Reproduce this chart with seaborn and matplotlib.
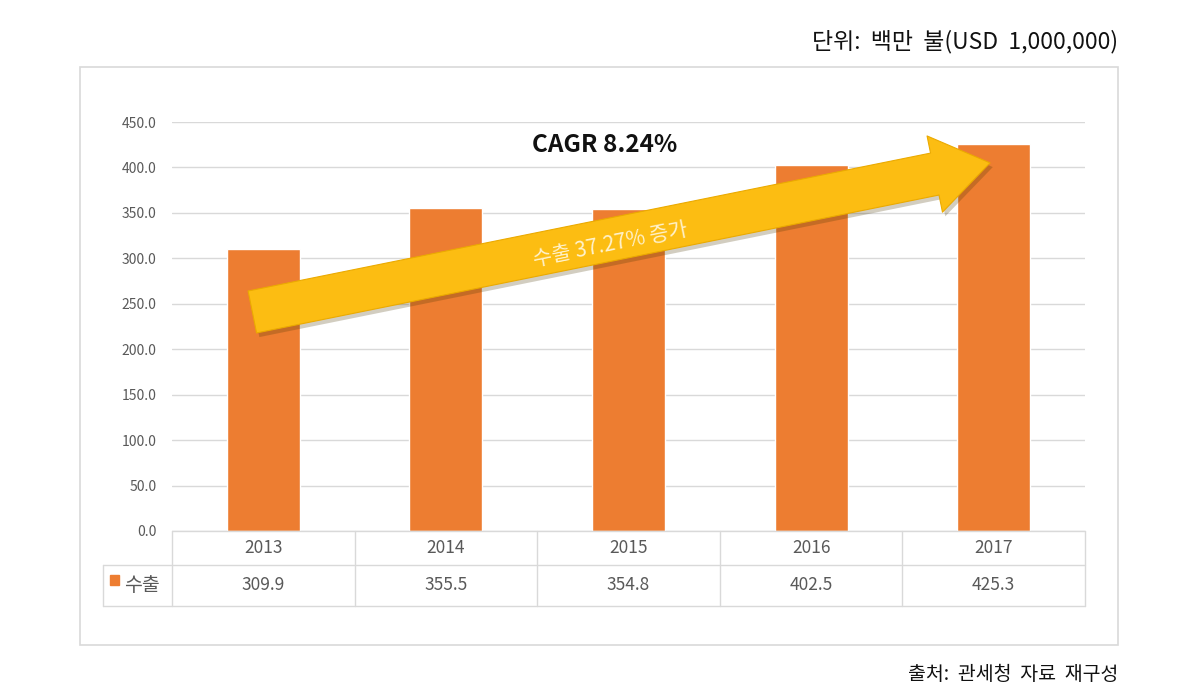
import matplotlib
matplotlib.use("Agg")
import matplotlib.pyplot as plt
import matplotlib.patheffects as pe
from matplotlib.patches import Rectangle
from matplotlib.lines import Line2D
import seaborn as sns
import pandas as pd

# 데이터
years = ["2013", "2014", "2015", "2016", "2017"]
exports = [309.9, 355.5, 354.8, 402.5, 425.3]
series_name = "수출"
yticks = [0, 50, 100, 150, 200, 250, 300, 350, 400, 450]

df = pd.DataFrame({"year": years, "value": exports})

sns.set_style("white")
plt.rcParams["font.family"] = ["Noto Sans CJK KR", "DejaVu Sans"]

BAR = "#ED7D31"
GRID = "#D9D9D9"
TXT = "#595959"

fig = plt.figure(figsize=(11.92, 6.91), dpi=100)
ax = fig.add_axes([172 / 1192, 1 - 531 / 691, 913 / 1192, 409 / 691])

sns.barplot(data=df, x="year", y="value", color=BAR, width=0.4, saturation=1, ax=ax, zorder=2)
ax.set_xlim(-0.5, len(years) - 0.5)
ax.set_ylim(0, 450)
ax.set_yticks(yticks)
ax.set_yticklabels([f"{v:.1f}" for v in yticks], color=TXT, fontsize=10)
ax.tick_params(axis="y", length=0, pad=11)
ax.set_xticks([])
ax.set_xlabel("")
ax.set_ylabel("")
ax.yaxis.grid(True, color=GRID, linewidth=1, zorder=0)
ax.set_axisbelow(True)
for s in ax.spines.values():
    s.set_visible(False)

# 데이터 테이블
tr = ax.get_xaxis_transform()
row1 = -34 / 409
row2 = -75 / 409
legx = -0.5 - 69 / 182.6
kw = dict(color=GRID, linewidth=1, transform=tr, clip_on=False)
ax.add_line(Line2D([-0.5, len(years) - 0.5], [0, 0], **kw))
ax.add_line(Line2D([legx, len(years) - 0.5], [row1, row1], **kw))
ax.add_line(Line2D([legx, len(years) - 0.5], [row2, row2], **kw))
ax.add_line(Line2D([legx, legx], [row1, row2], **kw))
for i in range(len(years) + 1):
    ax.add_line(Line2D([i - 0.5, i - 0.5], [0, row2], **kw))
for i, (yr, v) in enumerate(zip(years, exports)):
    ax.text(i, row1 / 2, yr, transform=tr, ha="center", va="center", fontsize=12.5, color=TXT)
    ax.text(i, (row1 + row2) / 2, f"{v:.1f}", transform=tr, ha="center", va="center",
            fontsize=12.5, color=TXT)
# 범례 셀
ax.add_patch(Rectangle((legx + 7 / 182.6, (row1 + row2) / 2 + 1 / 409), 9 / 182.6, 10 / 409,
                       transform=tr, color=BAR, clip_on=False))
ax.text(legx + 21 / 182.6, (row1 + row2) / 2, series_name, transform=tr, ha="left", va="center",
        fontsize=14, color=TXT)

# 화살표와 주석
ax.annotate("", xy=(3.98, 405), xytext=(-0.06, 241),
            arrowprops=dict(arrowstyle="simple,head_length=2.9,head_width=4.0,tail_width=2.2",
                            mutation_scale=14, fc="#FCBD12", ec="#EBAA00", lw=0.8,
                            shrinkA=0, shrinkB=0,
                            path_effects=[pe.withSimplePatchShadow(offset=(2, -3), alpha=0.25)]),
            zorder=3)
ax.text(1.9, 315, "수출 37.27% 증가", rotation=11.4, rotation_mode="anchor", ha="center",
        va="center", fontsize=15, color="#FFF2CC", zorder=4)
ax.text(1.87, 425, "CAGR 8.24%", ha="center", va="center", fontsize=17.5, fontweight="bold",
        color="#111111", zorder=4)

# 차트 테두리
fig.patches.append(Rectangle((80 / 1192, 1 - 645 / 691), 1038 / 1192, 578 / 691,
                             transform=fig.transFigure, fill=False, edgecolor=GRID, linewidth=1.2))

fig.text(1118 / 1192, 1 - 42 / 691, "단위:  백만  불(USD  1,000,000)", ha="right", va="center",
         fontsize=16.5, color="#111111")
fig.text(1118 / 1192, 1 - 675 / 691, "출처:  관세청  자료  재구성", ha="right", va="center",
         fontsize=14, color="#111111")

fig.savefig("out.png", dpi=100)
plt.close()
